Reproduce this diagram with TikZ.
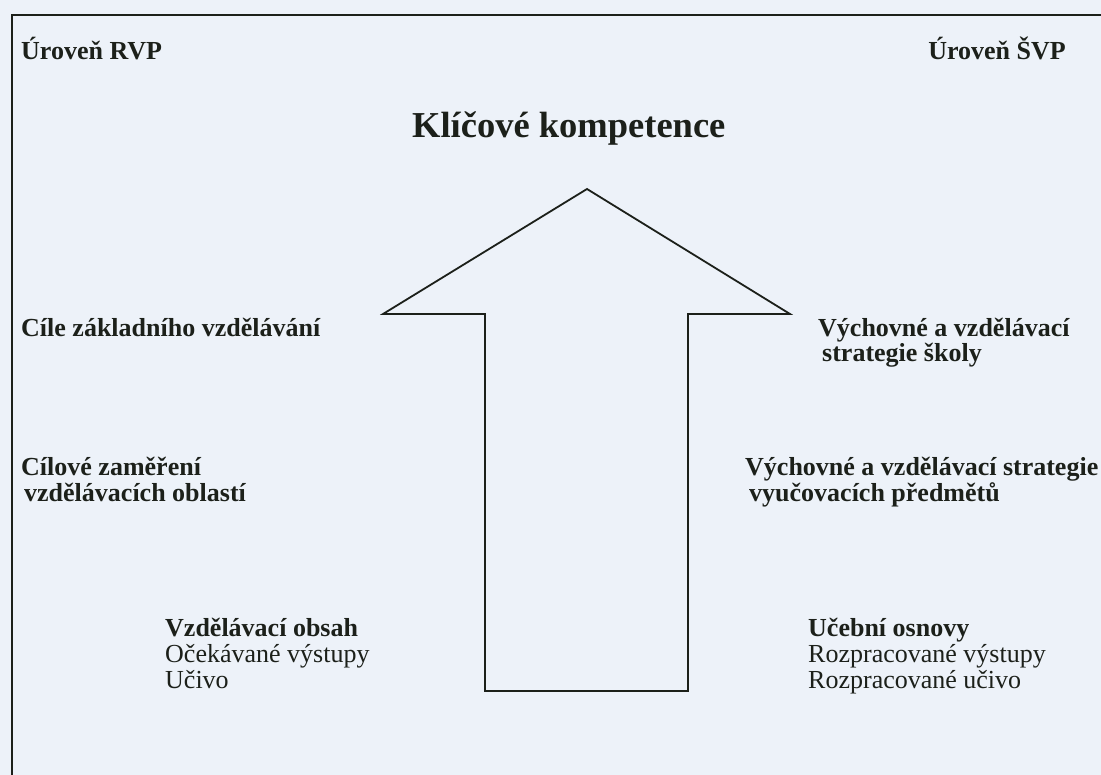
\documentclass[tikz,border=0pt]{standalone}
\usepackage{fontspec}
\setmainfont{Liberation Serif}
\usetikzlibrary{positioning}
\definecolor{scanbg}{RGB}{237,242,249}
\definecolor{ink}{RGB}{28,32,26}

\begin{document}
\begin{tikzpicture}[x=1pt,y=-1pt,
    heading/.style={font={\bfseries\fontsize{26}{25.5}\selectfont\lineskiplimit=-50pt},
        text=ink, inner sep=0pt, anchor=base west, align=left},
    plain/.style={font={\fontsize{26}{26}\selectfont\lineskiplimit=-50pt},
        text=ink, inner sep=0pt, anchor=base west, align=left},
    outline/.style={draw=ink, line width=1.8pt, line join=miter}]
\fill[scanbg] (0,0) rectangle (1101,775);
\useasboundingbox (0,0) rectangle (1101,775);
\draw[outline, line width=2.2pt] (12,775) -- (12,15) -- (1101,15);

\node[heading] (rvp) at (21,60) {Úroveň RVP};
\node[heading, anchor=base east] (svp) at (1066,60) {Úroveň ŠVP};
\node[heading, font=\bfseries\fontsize{36.5}{40}\selectfont] (kk) at (412,138) {Klíčové kompetence};

\coordinate (tip) at (587,189);
\coordinate (lbarb) at (383,314);
\coordinate (rbarb) at (790,314);
\draw[outline] (lbarb) -- (tip) -- (rbarb) -- (688,314) -- (688,691)
    -- (485,691) -- (485,314) -- cycle;

% base anchor sits on the last line
\node[heading] (cile) at (21,337) {Cíle základního vzdělávání};
\node[heading] (skola) at (818,362) {Výchovné a vzdělávací\\\hspace{4pt}strategie školy};
\node[heading] (oblasti) at (21,501) {Cílové zaměření\\\hspace{3pt}vzdělávacích oblastí};
\node[heading] (predmety) at (745,501) {Výchovné a vzdělávací strategie\\\hspace{4pt}vyučovacích předmětů};

\node[plain] (obsah) at (165,688) {\textbf{Vzdělávací obsah}\\Očekávané výstupy\\Učivo};
\node[plain] (osnovy) at (808,688) {\textbf{Učební osnovy}\\Rozpracované výstupy\\Rozpracované učivo};
\end{tikzpicture}
\end{document}
